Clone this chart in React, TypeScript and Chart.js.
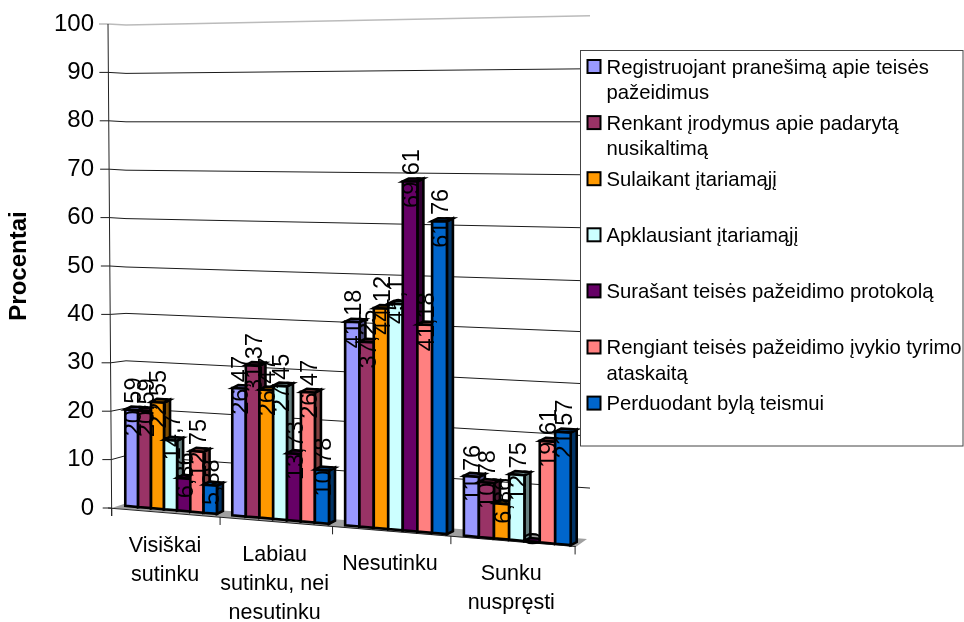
import React, { useEffect, useRef } from "react";
import { Chart, registerables } from "chart.js";

Chart.register(...registerables);

const FONT = '"Liberation Sans", Arial, sans-serif';

const categories = ["Visiškai sutinku", "Labiau sutinku, nei nesutinku", "Nesutinku", "Sunku nuspręsti"];
const categoryLines = [["Visiškai", "sutinku"], ["Labiau", "sutinku, nei", "nesutinku"], ["Nesutinku"], ["Sunku", "nuspręsti"]];

const seriesLines = [
  ["Registruojant pranešimą apie teisės", "pažeidimus"],
  ["Renkant įrodymus apie padarytą", "nusikaltimą"],
  ["Sulaikant įtariamąjį"],
  ["Apklausiant įtariamąjį"],
  ["Surašant teisės pažeidimo protokolą"],
  ["Rengiant teisės pažeidimo įvykio tyrimo", "ataskaitą"],
  ["Perduodant bylą teismui"],
];

const registering = [20.59, 26.47, 41.18, 11.76];
const collecting = [20.59, 31.37, 37.25, 10.78];
const detaining = [22.55, 26.47, 44.12, 6.86];
const questioning = [14.7, 27.45, 45.1, 12.75];
const protocol = [6.86, 13.73, 69.61, 0];
const report = [12.75, 26.47, 41.18, 19.61];
const transfer = [5.88, 10.78, 61.76, 21.57];
const seriesValues = [registering, collecting, detaining, questioning, protocol, report, transfer];

const faceColors = ["#9999FF", "#993366", "#FF9900", "#CCFFFF", "#660066", "#FF8080", "#0066CC"];
const sideColors = ["#4D4D80", "#4D1A33", "#804D00", "#668080", "#330033", "#804040", "#003366"];
const lidColors = ["#7373BF", "#73264D", "#BF7300", "#99BFBF", "#4D004D", "#BF6060", "#004D99"];

const DEPTH_X = 6;
const DEPTH_Y = -3;

function warpX(chart: any, x: number) {
  const a = chart.chartArea;
  const u = (x - a.left) / (a.right - a.left);
  return 118 + 414.6 * u + 47 * u * u;
}
function warpY(chart: any, X: number, y: number) {
  const base = 506 + 0.088 * (X - 127);
  const ratio = (4.68 + 0.0012 * (X - 127)) / 4.84;
  return base - (chart.chartArea.bottom - y) * ratio;
}

function poly(ctx: CanvasRenderingContext2D, pts: number[][], fill: string) {
  ctx.beginPath();
  pts.forEach((p, i) => (i ? ctx.lineTo(p[0], p[1]) : ctx.moveTo(p[0], p[1])));
  ctx.closePath();
  ctx.fillStyle = fill;
  ctx.fill();
  ctx.stroke();
}

const perspectivePlugin = {
  id: "perspective",
  beforeDatasetsDraw(chart: any) {
    const ctx: CanvasRenderingContext2D = chart.ctx;
    const ys = chart.scales.y;
    const xs = chart.scales.x;
    ctx.save();

    ys.ticks.forEach((t: any) => {
      const v = t.value;
      const y = ys.getPixelForValue(v);
      const axisX = 111.7 - (3.7 * (508 - y)) / 484;
      const offset = v >= 50 ? 1 : -(50 - v) / 10;
      const slope = 0.08 - 0.001 * v;
      const wall = (X: number) => y + offset + (X - 126) * slope;
      ctx.beginPath();
      ctx.moveTo(axisX - 9, y);
      ctx.lineTo(axisX, y);
      if (v > 0) {
        ctx.lineTo(126, wall(126));
        ctx.lineTo(590, wall(590));
      }
      ctx.strokeStyle = v === 100 ? "#bbbbbb" : "#1a1a1a";
      ctx.lineWidth = v === 100 ? 1.5 : 1;
      ctx.stroke();
    });

    ctx.beginPath();
    ctx.moveTo(111.7, 508);
    ctx.lineTo(127, 503);
    ctx.lineTo(587, 539);
    ctx.lineTo(575.7, 547);
    ctx.closePath();
    ctx.fillStyle = "#a0a0a0";
    ctx.fill();

    ctx.beginPath();
    ctx.moveTo(108, ys.getPixelForValue(100));
    ctx.lineTo(111.7, 516);
    ctx.strokeStyle = "#222222";
    ctx.lineWidth = 1;
    ctx.stroke();

    const frontY = (X: number) => 508 + 0.083 * (X - 111.7);
    ctx.beginPath();
    ctx.moveTo(108, 508);
    ctx.lineTo(575.7, frontY(575.7));
    ctx.stroke();
    for (let k = 0; k <= categories.length; k++) {
      const px = xs.left + (k * xs.width) / categories.length;
      const X = k === 0 ? 111.7 : warpX(chart, px) - 4.5;
      ctx.beginPath();
      ctx.moveTo(X, frontY(X));
      ctx.lineTo(X, frontY(X) + 8);
      ctx.stroke();
    }

    ctx.strokeStyle = "#000000";
    ctx.lineWidth = 2.6;
    ctx.lineJoin = "miter";
    chart.data.datasets.forEach((_: any, d: number) => {
      chart.getDatasetMeta(d).data.forEach((el: any) => {
        const L = warpX(chart, el.x - el.width / 2);
        const R = warpX(chart, el.x + el.width / 2);
        const tl = [L, warpY(chart, L, el.y)];
        const tr = [R, warpY(chart, R, el.y)];
        const bl = [L, warpY(chart, L, el.base)];
        const br = [R, warpY(chart, R, el.base)];
        const off = (p: number[]) => [p[0] + DEPTH_X, p[1] + DEPTH_Y];
        poly(ctx, [tr, off(tr), off(br), br], sideColors[d]);
        poly(ctx, [tl, off(tl), off(tr), tr], lidColors[d]);
        poly(ctx, [tl, tr, br, bl], faceColors[d]);
      });
    });

    ctx.fillStyle = "#000000";
    ctx.font = `23.5px ${FONT}`;
    ctx.textAlign = "center";
    ctx.textBaseline = "middle";
    chart.data.datasets.forEach((ds: any, d: number) => {
      chart.getDatasetMeta(d).data.forEach((el: any, i: number) => {
        const X = warpX(chart, el.x);
        ctx.save();
        ctx.translate(X + 1.5, warpY(chart, X, el.y) - 3);
        ctx.rotate(-Math.PI / 2);
        ctx.fillText(String(ds.data[i]).replace(".", ","), 0, 1);
        ctx.restore();
      });
    });

    ctx.font = `21.5px ${FONT}`;
    categoryLines.forEach((lines, i) => {
      const X = warpX(chart, xs.getPixelForTick(i)) - 5.5;
      const top = 533 + 0.08 * X;
      lines.forEach((line, j) => ctx.fillText(line, X, top + j * 29));
    });

    ctx.restore();
    return false;
  },
  afterDraw(chart: any) {
    const ctx: CanvasRenderingContext2D = chart.ctx;
    ctx.save();
    ctx.fillStyle = "#ffffff";
    ctx.strokeStyle = "#444444";
    ctx.lineWidth = 1;
    ctx.fillRect(580.5, 50.5, 382.5, 395.5);
    ctx.strokeRect(580.5, 50.5, 382.5, 395.5);
    ctx.font = `20.3px ${FONT}`;
    ctx.textAlign = "left";
    ctx.textBaseline = "alphabetic";
    seriesLines.forEach((lines, i) => {
      const cy = 66.5 + i * 56.1;
      ctx.fillStyle = faceColors[i];
      ctx.strokeStyle = "#000000";
      ctx.lineWidth = 2;
      ctx.fillRect(587.5, cy - 6.5, 13, 13);
      ctx.strokeRect(587.5, cy - 6.5, 13, 13);
      ctx.fillStyle = "#000000";
      lines.forEach((line, j) => ctx.fillText(line, 606.5, cy + 7 + j * 25.5));
    });
    ctx.restore();
  },
};

export default function App() {
  const ref = useRef<HTMLCanvasElement>(null);
  useEffect(() => {
    const chart = new Chart(ref.current as HTMLCanvasElement, {
      type: "bar",
      data: {
        labels: categories,
        datasets: seriesValues.map((data, i) => ({
          label: seriesLines[i].join(" "),
          data,
          backgroundColor: faceColors[i],
          borderColor: "#000000",
          borderWidth: 2,
          categoryPercentage: 0.86,
          barPercentage: 1,
        })),
      },
      options: {
        responsive: false,
        animation: false,
        layout: { padding: { top: 24, bottom: 114, right: 386, left: 0 } },
        plugins: { legend: { display: false }, tooltip: { enabled: false } },
        scales: {
          x: {
            grid: { display: false },
            border: { display: false },
            ticks: { display: false },
            afterFit: (s: any) => { s.height = 0; },
          },
          y: {
            min: 0,
            max: 100,
            grid: { display: false },
            border: { display: false },
            ticks: {
              stepSize: 10,
              autoSkip: false,
              color: "#000000",
              padding: 6,
              font: { family: FONT, size: 24 },
            },
            title: {
              display: true,
              text: "Procentai",
              color: "#000000",
              padding: { top: 5, bottom: 0 },
              font: { family: FONT, size: 24, weight: "bold" },
            },
            afterFit: (s: any) => { s.width = 108; s.paddingTop = 0; s.paddingBottom = 0; },
          },
        },
      },
      plugins: [perspectivePlugin],
    } as any);
    return () => chart.destroy();
  }, []);
  return (
    <canvas
      ref={ref}
      width={964}
      height={622}
      style={{ position: "absolute", left: 0, top: 0, display: "block" }}
    />
  );
}
